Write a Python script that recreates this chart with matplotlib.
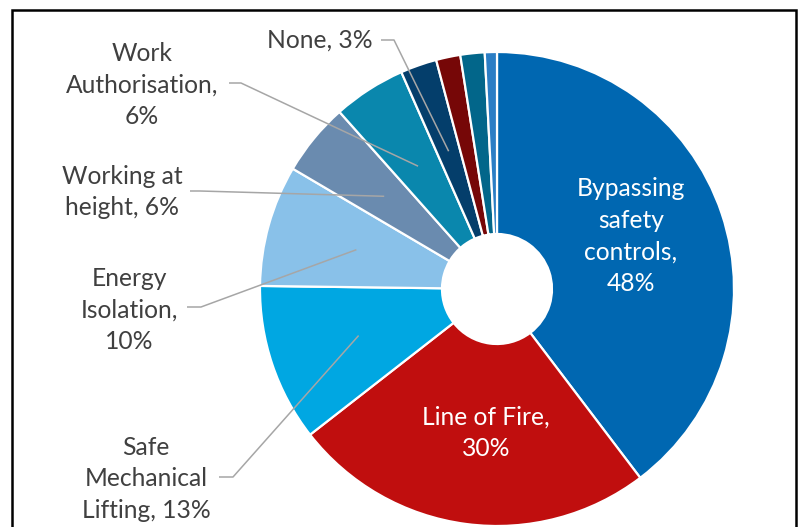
import numpy as np
import matplotlib
matplotlib.use("Agg")
import matplotlib.pyplot as plt
from matplotlib.patches import Rectangle

categories = ["Bypassing safety controls", "Line of Fire", "Safe Mechanical Lifting",
              "Energy Isolation", "Working at height", "Work Authorisation", "None",
              "Other 1", "Other 2", "Other 3"]
values = [48, 30, 13, 10, 6, 6, 3, 2, 2, 1]
labels = ["Bypassing\nsafety\ncontrols,\n48%", "Line of Fire,\n30%",
          "Safe\nMechanical\nLifting, 13%", "Energy\nIsolation,\n10%",
          "Working at\nheight, 6%", "Work\nAuthorisation,\n6%", "None, 3%",
          None, None, None]
colors = ["#0067B1", "#C00E0E", "#00A7E2", "#89C1E9", "#6A8BAF",
          "#0A87AD", "#043E6B", "#760707", "#02668A", "#2B7EC5"]

W, H = 801, 527
fig = plt.figure(figsize=(W / 100, H / 100), dpi=100)
ax = fig.add_axes([0, 0, 1, 1])

cx, cy = 497, H - 289
R, r_in = 237, 55
wedges, _ = ax.pie(values, colors=colors, startangle=90, counterclock=False,
                   center=(cx, cy), radius=R,
                   wedgeprops=dict(width=R - r_in, edgecolor="white", linewidth=1.6))
ax.set_xlim(0, W)
ax.set_ylim(0, H)
ax.set_aspect("equal")
ax.axis("off")

FONT = ["Lato", "DejaVu Sans"]
FS = 17.7
LS = 1.45
rmid = (R + r_in) / 2


def mid_point(w, rad, da=0.0):
    a = np.deg2rad((w.theta1 + w.theta2) / 2 + da)
    return cx + rad * np.cos(a), cy + rad * np.sin(a)


# inside labels
for i, da in ((0, 3.0), (1, 3.0)):
    x, y = mid_point(wedges[i], rmid - 2, da)
    ax.text(x, y, labels[i], ha="center", va="center", color="white",
            fontsize=FS, family=FONT, linespacing=LS)

# outside labels: (label centre x, centre y in px from top, elbow start x, elbow end x, elbow y)
outside = {
    6: (320, 40, 381, 394, 40),
    5: (142, 85, 229, 241, 83),
    4: (122, 192, 190, 200, 191),
    3: (129, 310, 187, 201, 307),
    2: (146, 479, 219, 233, 477),
}
line_col = "#A6A6A6"
for i, (tx, ty, x0, x1, ly) in outside.items():
    ax.text(tx, H - ty, labels[i], ha="center", va="center", color="#404040",
            fontsize=FS, family=FONT, linespacing=LS)
    ex, ey = mid_point(wedges[i], rmid)
    ax.plot([x0, x1, ex], [H - ly, H - ly, ey], color=line_col, lw=1.1,
            solid_capstyle="butt", zorder=5)

# frame border (chart area outline, cropped at bottom)
fig.patches.append(Rectangle((12 / W, -0.1), (796 - 12) / W, (H - 10) / H + 0.1,
                             transform=fig.transFigure, fill=False,
                             edgecolor="black", linewidth=1.8))

fig.savefig("out.png", dpi=100)
